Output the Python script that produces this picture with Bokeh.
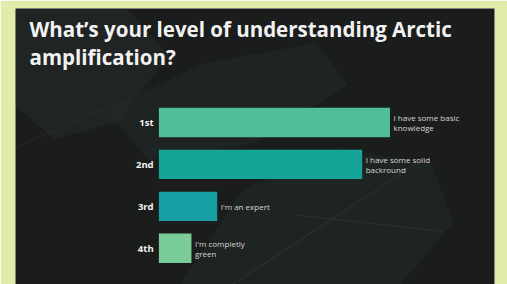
from bokeh.plotting import figure
from bokeh.models import Range1d, ColumnDataSource
from bokeh.core.properties import value
from bokeh.embed import file_html
from bokeh.resources import INLINE

# ---- data ----
categories = ["1st", "2nd", "3rd", "4th"]
values = [44, 38.7, 11.1, 6.2]
answers = ["I have some basic\nknowledge", "I have some solid\nbackround",
           "I'm an expert", "I'm completly\ngreen"]
bar_colors = ["#50be9a", "#15a596", "#17a0a4", "#7acd98"]
title_lines = ["What’s your level of understanding Arctic", "amplification?"]

PAGE_BG = "#e2ebaa"
PANEL_BG = "#1b1c1c"

y_pos = list(range(len(categories)))
src = ColumnDataSource(dict(y=y_pos, cat=categories, val=values, color=bar_colors))

lx, ly, lt = [], [], []
for yi, v, a in zip(y_pos, values, answers):
    parts = a.split("\n")
    n = len(parts)
    for j, t in enumerate(parts):
        lx.append(v + 0.67)
        ly.append(yi + (j - (n - 1) / 2) * 0.24)
        lt.append(t)
lab_src = ColumnDataSource(dict(x=lx, y=ly, t=lt))

p = figure(width=507, height=284, output_backend="svg", toolbar_location=None,
           x_range=Range1d(-27.3, 63.9), y_range=Range1d(3.866, -2.72),
           x_axis_type=None, y_axis_type=None,
           min_border_left=15, min_border_right=13, min_border_top=8, min_border_bottom=0)
p.background_fill_color = PANEL_BG
p.border_fill_color = PAGE_BG
p.outline_line_color = None
p.grid.visible = False

# faint leaf texture in the background (decoration only)
p.patch([-27.3, -6, 2, -8, -20, -27.3], [-2.72, -2.72, -1.6, 0.0, 0.4, -0.4],
        fill_color="#2a3532", fill_alpha=0.35, line_color=None)
p.patch([-10, 8, 30, 36, 18, -2], [-0.3, -1.4, -1.9, -0.9, 0.5, 0.9],
        fill_color="#253230", fill_alpha=0.35, line_color=None)
p.patch([4, 16, 34, 52, 56, 46, 12], [3.87, 1.6, 0.6, 1.0, 2.4, 3.87, 3.87],
        fill_color="#202b28", fill_alpha=0.55, line_color=None)
p.line([14, 50], [3.87, 0.9], line_color="#3b4a45", line_alpha=0.45, line_width=1)
p.line([26, 54], [2.2, 2.6], line_color="#3b4a45", line_alpha=0.35, line_width=1)
p.line([-27.3, -2], [0.6, -0.8], line_color="#3b4a45", line_alpha=0.3, line_width=1)

p.hbar(y="y", left=0, right="val", height=0.70, fill_color="color",
       line_color=None, source=src)

p.text(x=-1.0, y="y", text="cat", source=src, text_align="right",
       text_baseline="middle", text_color="#f4f4f4", text_font=value("Open Sans"),
       text_font_style="bold", text_font_size="9.5px")

p.text(x="x", y="y", text="t", source=lab_src, text_align="left",
       text_baseline="middle", text_color="#d6d6d6", text_font=value("Open Sans"),
       text_font_size="8px")

title_y = [-2.236, -1.556]
p.text(x=-24.63, y=title_y, text=title_lines, text_color="#f2f2f2",
       text_font=value("Open Sans"), text_font_style="bold",
       text_font_size="20.5px", text_baseline="alphabetic")

open("out.html", "w").write(file_html(p, INLINE))
